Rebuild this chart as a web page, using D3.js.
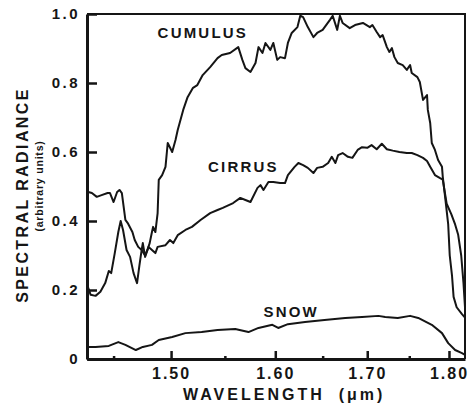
<!DOCTYPE html>
<html>
<head>
<meta charset="utf-8">
<style>
  body { margin: 0; background: #fff; }
  text { font-family: "Liberation Sans", Arial, sans-serif; font-weight: bold; fill: #151515; }
  .axis path, .axis line { stroke: #151515; }
</style>
</head>
<body>
<script src="https://cdn.jsdelivr.net/npm/d3@7/dist/d3.min.js"></script>
<script>

// tick values and labels
var yTicks = [0, 0.2, 0.4, 0.6, 0.8, 1.0];
var yTickLabels = ["0", "0.2", "0.4", "0.6", "0.8", "1.0"];
var xTicks = [1.50, 1.60, 1.70, 1.80];
var xTickLabels = ["1.50", "1.60", "1.70", "1.80"];
var xMinorTicks = [1.45, 1.55, 1.65, 1.75];

// wavelength (um) / spectral radiance
var cumulusWl = [1.428,1.429,1.432,1.436,1.440,1.445,1.447,1.450,1.453,1.455,1.457,1.460,1.462,1.466,1.468,1.471,1.474,1.477,1.479,1.481,1.483,1.484,1.486,1.488,1.489,1.492,1.495,1.497,1.501,1.504,1.506,1.511,1.515,1.520,1.524,1.529,1.536,1.543,1.547,1.555,1.563,1.567,1.570,1.575,1.580,1.583,1.587,1.590,1.595,1.598,1.602,1.605,1.610,1.613,1.617,1.623,1.626,1.629,1.634,1.640,1.644,1.650,1.658,1.661,1.666,1.669,1.672,1.680,1.686,1.695,1.703,1.706,1.711,1.715,1.718,1.723,1.726,1.729,1.732,1.736,1.742,1.747,1.751,1.753,1.760,1.763,1.767,1.772,1.773,1.776,1.778,1.782,1.786,1.791,1.792,1.795,1.799,1.801,1.804,1.806,1.810,1.817,1.821];
var cumulusRad = [0.48,0.484,0.481,0.470,0.475,0.481,0.481,0.455,0.484,0.490,0.481,0.403,0.394,0.368,0.345,0.325,0.316,0.300,0.316,0.336,0.368,0.383,0.368,0.423,0.519,0.533,0.557,0.626,0.600,0.635,0.664,0.722,0.759,0.786,0.794,0.823,0.846,0.872,0.881,0.887,0.904,0.867,0.843,0.832,0.858,0.904,0.887,0.916,0.896,0.916,0.867,0.875,0.872,0.916,0.945,0.962,0.995,0.991,0.962,0.933,0.945,0.954,0.983,0.995,0.954,0.995,0.974,0.959,0.968,0.974,0.962,0.968,0.948,0.933,0.939,0.904,0.890,0.901,0.875,0.858,0.852,0.838,0.852,0.829,0.817,0.803,0.751,0.765,0.722,0.684,0.626,0.606,0.577,0.557,0.528,0.470,0.39,0.30,0.24,0.18,0.15,0.13,0.12];

var cirrusWl = [1.428,1.429,1.431,1.435,1.439,1.443,1.446,1.448,1.451,1.454,1.456,1.458,1.461,1.464,1.467,1.470,1.472,1.474,1.475,1.477,1.480,1.483,1.486,1.488,1.495,1.499,1.502,1.506,1.513,1.519,1.527,1.536,1.543,1.548,1.558,1.565,1.570,1.575,1.582,1.585,1.588,1.593,1.598,1.605,1.610,1.613,1.620,1.624,1.629,1.634,1.640,1.644,1.650,1.656,1.660,1.664,1.667,1.672,1.678,1.683,1.689,1.694,1.700,1.705,1.711,1.717,1.723,1.730,1.738,1.747,1.753,1.760,1.767,1.772,1.776,1.782,1.788,1.792,1.797,1.803,1.808,1.812,1.816,1.819,1.821];
var cirrusRad = [0.20,0.206,0.186,0.183,0.195,0.22,0.255,0.249,0.307,0.368,0.40,0.374,0.316,0.296,0.249,0.22,0.27,0.316,0.336,0.296,0.325,0.316,0.307,0.325,0.330,0.345,0.336,0.359,0.374,0.383,0.403,0.423,0.432,0.438,0.452,0.467,0.461,0.455,0.496,0.504,0.490,0.513,0.513,0.510,0.510,0.533,0.557,0.568,0.562,0.554,0.539,0.554,0.557,0.568,0.586,0.568,0.591,0.597,0.586,0.583,0.606,0.614,0.612,0.620,0.608,0.624,0.608,0.604,0.600,0.597,0.597,0.591,0.583,0.574,0.557,0.533,0.525,0.520,0.45,0.42,0.39,0.36,0.30,0.22,0.15];

var snowWl = [1.428,1.435,1.446,1.454,1.460,1.469,1.475,1.483,1.489,1.501,1.513,1.528,1.543,1.560,1.573,1.583,1.597,1.603,1.613,1.631,1.652,1.675,1.694,1.713,1.721,1.736,1.751,1.761,1.778,1.791,1.799,1.808,1.817,1.821];
var snowRad = [0.035,0.035,0.038,0.049,0.041,0.026,0.035,0.041,0.055,0.064,0.075,0.078,0.084,0.087,0.078,0.090,0.099,0.090,0.101,0.107,0.113,0.119,0.122,0.125,0.122,0.119,0.125,0.119,0.099,0.075,0.046,0.026,0.017,0.012];

// curve labels: text, wavelength, radiance of label start
var labelNames = ["CUMULUS", "CIRRUS", "SNOW"];
var labelWl = [1.488, 1.534, 1.588];
var labelRad = [0.93, 0.542, 0.122];

var width = 468, height = 404;

// axis is linear in wavenumber (1/lambda)
var x = d3.scalePow().exponent(-1)
          .domain([1.428, 1.821])
          .range([87, 465]);
var y = d3.scaleLinear()
          .domain([0, 1])
          .range([359, 14]);

var svg = d3.select("body").append("svg")
    .attr("width", width)
    .attr("height", height);

// frame top + right
svg.append("path")
    .attr("d", "M" + x.range()[0] + "," + y.range()[1] + "H" + x.range()[1] + "V" + y.range()[0])
    .attr("fill", "none")
    .attr("stroke", "#151515")
    .attr("stroke-width", 2);

var line = d3.line()
    .x(function(d) { return x(d[0]); })
    .y(function(d) { return y(d[1]); });

[[cumulusWl, cumulusRad], [cirrusWl, cirrusRad], [snowWl, snowRad]].forEach(function(s) {
  svg.append("path")
      .datum(d3.zip(s[0], s[1]))
      .attr("d", line)
      .attr("fill", "none")
      .attr("stroke", "#151515")
      .attr("stroke-width", 2)
      .attr("stroke-linejoin", "round");
});

// axes
var yAxis = svg.append("g")
    .attr("class", "axis")
    .attr("transform", "translate(" + x.range()[0] + ",0)")
    .call(d3.axisLeft(y)
          .tickValues(yTicks)
          .tickFormat(function(d, i) { return yTickLabels[i]; })
          .tickSizeInner(-10).tickSizeOuter(0).tickPadding(7));
yAxis.select(".domain").attr("stroke-width", 3);
yAxis.selectAll("line").attr("stroke-width", 2.5);
yAxis.selectAll("text")
    .style("font-size", "15px")
    .style("letter-spacing", "2.5px");

var xAxis = svg.append("g")
    .attr("class", "axis")
    .attr("transform", "translate(0," + y.range()[0] + ")")
    .call(d3.axisBottom(x)
          .tickValues(xTicks)
          .tickFormat(function(d, i) { return xTickLabels[i]; })
          .tickSizeInner(-8).tickSizeOuter(0).tickPadding(9));
xAxis.select(".domain").attr("stroke-width", 3);
xAxis.selectAll("line").attr("stroke-width", 2.5);
xAxis.selectAll("text")
    .style("font-size", "16px")
    .style("letter-spacing", "2px");

var xMinor = svg.append("g")
    .attr("class", "axis")
    .attr("transform", "translate(0," + y.range()[0] + ")")
    .call(d3.axisBottom(x)
          .tickValues(xMinorTicks)
          .tickFormat("")
          .tickSizeInner(-3).tickSizeOuter(0));
xMinor.select(".domain").remove();
xMinor.selectAll("line").attr("stroke-width", 2.5);

// curve labels
svg.selectAll(".clabel")
    .data(labelNames)
  .enter().append("text")
    .attr("class", "clabel")
    .attr("x", function(d, i) { return x(labelWl[i]); })
    .attr("y", function(d, i) { return y(labelRad[i]); })
    .style("font-size", "15px")
    .style("letter-spacing", "2.2px")
    .text(function(d) { return d; });

// axis titles
var xt = svg.append("text")
    .attr("x", 183)
    .attr("y", 400)
    .style("font-size", "16px")
    .style("letter-spacing", "3px");
xt.append("tspan").text("WAVELENGTH");
xt.append("tspan").attr("dx", 14).text("(\u03bcm)");

svg.append("text")
    .attr("transform", "translate(28,195) rotate(-90)")
    .attr("text-anchor", "middle")
    .style("font-size", "16px")
    .style("letter-spacing", "2.4px")
    .text("SPECTRAL RADIANCE");

svg.append("text")
    .attr("transform", "translate(43,186) rotate(-90)")
    .attr("text-anchor", "middle")
    .style("font-size", "10.5px")
    .style("letter-spacing", "0.8px")
    .text("(arbitrary units)");

</script>
</body>
</html>
